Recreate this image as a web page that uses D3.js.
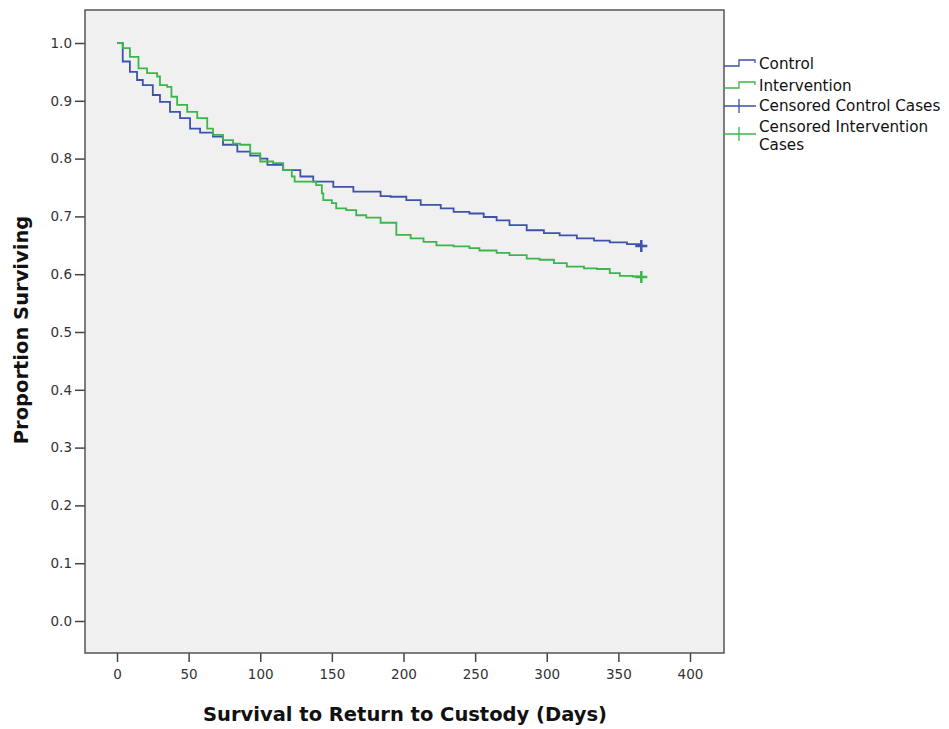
<!DOCTYPE html>
<html>
<head>
<meta charset="utf-8">
<script src="https://cdn.jsdelivr.net/npm/d3@7"></script>
<style>
  body { margin: 0; background: #fff; }
  svg { font-family: "DejaVu Sans", sans-serif; }
</style>
</head>
<body>
<svg id="chart" width="949" height="729"></svg>
<script>
// Kaplan-Meier estimates
const controlDays = [0, 4, 9, 14, 18, 25, 30, 37, 44, 51, 58, 67, 74, 84, 93, 100, 105, 116, 128, 137, 151, 165, 184, 191, 202, 212, 226, 235, 246, 256, 265, 274, 286, 298, 309, 321, 333, 344, 356, 366];
const controlSurv = [1.0, .968, .950, .936, .927, .910, .898, .881, .870, .852, .845, .838, .824, .812, .805, .800, .789, .780, .769, .760, .751, .743, .735, .734, .728, .720, .714, .708, .705, .699, .693, .685, .676, .671, .667, .662, .658, .655, .652, .649];

const interventionDays = [0, 4, 9, 15, 21, 28, 30, 35, 38, 42, 49, 56, 63, 67, 74, 81, 86, 93, 100, 109, 116, 122, 124, 139, 143, 144, 150, 153, 160, 167, 174, 184, 195, 205, 214, 223, 235, 246, 253, 265, 274, 286, 295, 305, 314, 326, 335, 344, 351, 360, 366];
const interventionSurv = [1.0, .991, .976, .956, .948, .942, .927, .924, .907, .893, .881, .870, .852, .841, .832, .826, .824, .809, .795, .792, .780, .769, .760, .754, .740, .728, .723, .714, .711, .702, .698, .689, .668, .662, .656, .650, .648, .645, .641, .637, .633, .627, .625, .619, .613, .610, .609, .602, .597, .596, .595];

const censorDay = 366;
const xTicks = [0, 50, 100, 150, 200, 250, 300, 350, 400];
const yTicks = [0, 0.1, 0.2, 0.3, 0.4, 0.5, 0.6, 0.7, 0.8, 0.9, 1.0];
const legendLabels = ["Control", "Intervention", "Censored Control Cases", "Censored Intervention Cases"];

const blue = "#3d52aa";
const green = "#3cb54b";

const svg = d3.select("#chart");
const frame = { left: 85, top: 10, right: 724, bottom: 653 };

const x = d3.scaleLinear().domain([0, 400]).range([117, 690]);
const y = d3.scaleLinear().domain([0, 1]).range([621, 43]);

svg.append("rect")
    .attr("x", frame.left).attr("y", frame.top)
    .attr("width", frame.right - frame.left)
    .attr("height", frame.bottom - frame.top)
    .attr("fill", "#f0f0f0");

const xAxis = svg.append("g")
    .attr("transform", `translate(0,${frame.bottom})`)
    .call(d3.axisBottom(x).tickValues(xTicks).tickSize(9).tickPadding(7));
const yAxis = svg.append("g")
    .attr("transform", `translate(${frame.left},0)`)
    .call(d3.axisLeft(y).tickValues(yTicks).tickFormat(d3.format(".1f")).tickSize(10).tickPadding(3));

[xAxis, yAxis].forEach(g => {
    g.select(".domain").remove();
    g.selectAll(".tick line").attr("stroke", "#444").attr("stroke-width", 1.5);
    g.selectAll(".tick text")
        .attr("fill", "#333")
        .style("font-size", "13.5px")
        .style("font-family", "'DejaVu Sans', sans-serif");
});

const line = d3.line()
    .x(d => x(d[0]))
    .y(d => y(d[1]))
    .curve(d3.curveStepAfter);

const series = [
    { days: controlDays, surv: controlSurv, color: blue },
    { days: interventionDays, surv: interventionSurv, color: green },
];

series.forEach(s => {
    const pts = s.days.map((d, i) => [d, s.surv[i]]);
    svg.append("path")
        .datum(pts)
        .attr("fill", "none")
        .attr("stroke", s.color)
        .attr("stroke-width", 1.8)
        .attr("d", line);
    // censored marker at end of follow-up
    const cx = x(censorDay), cy = y(s.surv[s.surv.length - 1]);
    svg.append("path")
        .attr("d", `M${cx - 6},${cy}H${cx + 6}M${cx},${cy - 6}V${cy + 6}`)
        .attr("stroke", s.color)
        .attr("stroke-width", 2.5);
});

svg.append("rect")
    .attr("x", frame.left).attr("y", frame.top)
    .attr("width", frame.right - frame.left)
    .attr("height", frame.bottom - frame.top)
    .attr("fill", "none")
    .attr("stroke", "#555")
    .attr("stroke-width", 1.5);

// axis titles
svg.append("text")
    .attr("x", 405).attr("y", 721)
    .attr("text-anchor", "middle")
    .style("font-weight", "bold")
    .style("font-size", "19.5px")
    .attr("fill", "#111")
    .text("Survival to Return to Custody (Days)");

svg.append("text")
    .attr("transform", "translate(28,330) rotate(-90)")
    .attr("text-anchor", "middle")
    .style("font-weight", "bold")
    .style("font-size", "19.5px")
    .attr("fill", "#111")
    .text("Proportion Surviving");

// legend
const legend = svg.append("g").style("font-size", "15.2px").attr("fill", "#111");
const lx0 = 724, lx1 = 756, lxm = 739;

[[legendLabels[0], blue, 64], [legendLabels[1], green, 86]].forEach(([label, color, cy]) => {
    legend.append("path")
        .attr("d", `M${lx0},${cy + 2}H${lxm}V${cy - 4}H${lx1 - 1}V${cy - 1}`)
        .attr("fill", "none")
        .attr("stroke", color)
        .attr("stroke-width", 1.3);
    legend.append("text").attr("x", 759).attr("y", cy + 5).text(label);
});

legend.append("path")
    .attr("d", `M${lx0},106H${lx1}M${lxm},99V113`)
    .attr("stroke", blue).attr("stroke-width", 1.3);
legend.append("text").attr("x", 759).attr("y", 111).text(legendLabels[2]);

legend.append("path")
    .attr("d", `M${lx0},134H${lx1}M${lxm},127V141`)
    .attr("stroke", green).attr("stroke-width", 1.3);
legend.append("text").attr("x", 759).attr("y", 132).text("Censored Intervention");
legend.append("text").attr("x", 759).attr("y", 150).text("Cases");
</script>
</body>
</html>
